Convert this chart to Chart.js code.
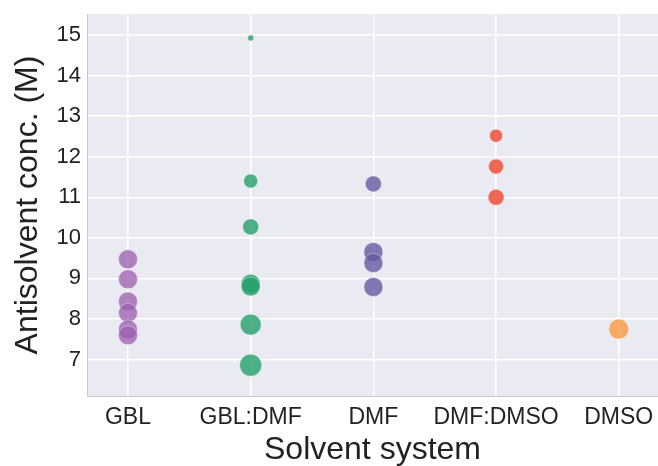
<!DOCTYPE html>
<html>
<head>
<meta charset="utf-8">
<script src="https://cdn.jsdelivr.net/npm/chart.js@4.4.0/dist/chart.umd.min.js"></script>
<style>
html,body{margin:0;padding:0;background:#fff;}
#wrap{width:658px;height:466px;}
</style>
</head>
<body>
<div id="wrap"><canvas id="c" width="658" height="466"></canvas></div>
<script>
const categories = ["GBL", "GBL:DMF", "DMF", "DMF:DMSO", "DMSO"];
const yTicks = [7, 8, 9, 10, 11, 12, 13, 14, 15];

const gblValues = [9.47, 8.98, 8.43, 8.15, 7.74, 7.60];
const gblSizes = [9.5, 9.5, 9.5, 9.5, 9.5, 9.5];
const gblDmfValues = [14.93, 11.40, 10.27, 8.87, 8.80, 7.86, 6.86];
const gblDmfSizes = [3, 7, 8, 9.5, 9.5, 10.5, 11];
const dmfValues = [11.33, 9.65, 9.38, 8.79];
const dmfSizes = [8, 9.5, 9.5, 9.5];
const dmfDmsoValues = [12.52, 11.76, 11.00];
const dmfDmsoSizes = [6.5, 7.5, 8];
const dmsoValues = [7.75];
const dmsoSizes = [10];

const seriesValues = [gblValues, gblDmfValues, dmfValues, dmfDmsoValues, dmsoValues];
const seriesSizes = [gblSizes, gblDmfSizes, dmfSizes, dmfDmsoSizes, dmsoSizes];
const seriesColors = [
  "rgba(156,98,176,0.78)",
  "rgba(34,160,104,0.8)",
  "rgba(102,89,160,0.8)",
  "rgba(238,70,45,0.8)",
  "rgba(249,152,64,0.8)"
];

const datasets = categories.map((cat, i) => ({
  label: cat,
  data: seriesValues[i].map((v, j) => ({ x: i, y: v, r: seriesSizes[i][j] })),
  backgroundColor: seriesColors[i],
  borderColor: "rgba(255,255,255,0.45)",
  borderWidth: 0.8,
  hoverRadius: 0
}));

const bgPlugin = {
  id: "bg",
  beforeDraw(chart) {
    const { ctx, chartArea: a } = chart;
    ctx.save();
    ctx.fillStyle = "#eaeaf2";
    ctx.fillRect(a.left, a.top, a.right - a.left, a.bottom - a.top);
    ctx.restore();
  }
};

const FONT = "'Liberation Sans', Arial, sans-serif";

new Chart(document.getElementById("c"), {
  type: "bubble",
  data: { datasets },
  plugins: [bgPlugin],
  options: {
    responsive: false,
    animation: false,
    layout: { autoPadding: false, padding: { top: 14, right: 0, left: 0, bottom: 0 } },
    plugins: { legend: { display: false }, tooltip: { enabled: false } },
    scales: {
      x: {
        type: "linear",
        min: -0.334,
        max: 4.32,
        afterFit(s) { s.height = 70; s.paddingLeft = 0; s.paddingRight = 0; s.paddingTop = 0; s.paddingBottom = 0; },
        grid: { color: "#ffffff", lineWidth: 1.5, drawTicks: false },
        border: { display: true, color: "#c9c9c9", width: 1 },
        ticks: {
          stepSize: 1,
          includeBounds: false,
          autoSkip: false,
          maxRotation: 0,
          padding: 8,
          color: "#222",
          font: { family: FONT, size: 23 },
          callback: (v) => (Number.isInteger(v) && categories[v] !== undefined ? categories[v] : "")
        },
        title: {
          display: true,
          text: "Solvent system",
          color: "#222",
          font: { family: FONT, size: 32, lineHeight: 1.0 },
          padding: { top: 0, bottom: 0 }
        }
      },
      y: {
        type: "linear",
        min: 6.1,
        max: 15.52,
        afterFit(s) { s.width = 87; s.paddingLeft = 0; s.paddingRight = 0; s.paddingTop = 0; s.paddingBottom = 0; },
        afterBuildTicks(s) { s.ticks = yTicks.map(v => ({ value: v })); },
        grid: { color: "#ffffff", lineWidth: 1.5, drawTicks: false },
        border: { display: true, color: "#c9c9c9", width: 1 },
        ticks: {
          padding: 6,
          color: "#222",
          font: { family: FONT, size: 22 },
          callback: (v) => String(v)
        },
        title: {
          display: true,
          text: "Antisolvent conc. (M)",
          color: "#222",
          font: { family: FONT, size: 32, lineHeight: 1.0 },
          padding: { top: 12, bottom: 0 }
        }
      }
    }
  }
});
</script>
</body>
</html>
